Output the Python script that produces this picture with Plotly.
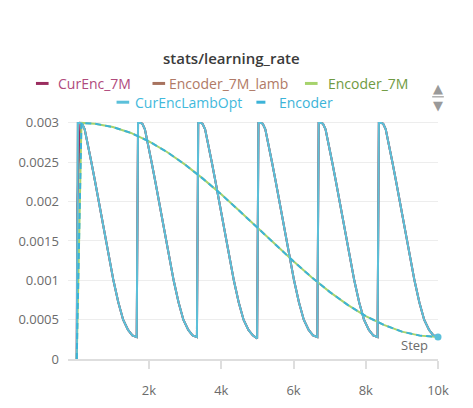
import plotly.graph_objects as go

# ---- data ----
cyc_steps = [0, 30, 100, 150, 220, 300, 405, 510, 611, 715, 818, 915, 1015, 1150, 1284, 1420, 1540, 1660,
             1697, 1767, 1817, 1887, 1967, 2072, 2177, 2278, 2382, 2485, 2582, 2682, 2817, 2951, 3087, 3207, 3327,
             3363, 3433, 3483, 3553, 3633, 3738, 3843, 3944, 4048, 4151, 4248, 4348, 4483, 4617, 4753, 4873, 4993,
             5030, 5100, 5150, 5220, 5300, 5405, 5510, 5611, 5715, 5818, 5915, 6015, 6150, 6284, 6420, 6540, 6660,
             6697, 6767, 6817, 6887, 6967, 7072, 7177, 7278, 7382, 7485, 7582, 7682, 7817, 7951, 8087, 8207, 8327,
             8363, 8433, 8483, 8553, 8633, 8738, 8843, 8944, 9048, 9151, 9248, 9348, 9483, 9617, 9753, 9873, 10000]
cyc_lr = [0.0, 0.003, 0.003, 0.00299, 0.00292, 0.00275, 0.0025, 0.00225, 0.002, 0.00175, 0.0015, 0.00125, 0.001, 0.00072, 0.0005, 0.00037, 0.0003, 0.00028,
          0.003, 0.003, 0.00299, 0.00292, 0.00275, 0.0025, 0.00225, 0.002, 0.00175, 0.0015, 0.00125, 0.001, 0.00072, 0.0005, 0.00037, 0.0003, 0.00028,
          0.003, 0.003, 0.00299, 0.00292, 0.00275, 0.0025, 0.00225, 0.002, 0.00175, 0.0015, 0.00125, 0.001, 0.00072, 0.0005, 0.00037, 0.0003, 0.00026,
          0.003, 0.003, 0.00299, 0.00292, 0.00275, 0.0025, 0.00225, 0.002, 0.00175, 0.0015, 0.00125, 0.001, 0.00072, 0.0005, 0.00037, 0.0003, 0.00028,
          0.003, 0.003, 0.00299, 0.00292, 0.00275, 0.0025, 0.00225, 0.002, 0.00175, 0.0015, 0.00125, 0.001, 0.00072, 0.0005, 0.00037, 0.0003, 0.00028,
          0.003, 0.003, 0.00299, 0.00292, 0.00275, 0.0025, 0.00225, 0.002, 0.00175, 0.0015, 0.00125, 0.001, 0.00072, 0.0005, 0.00037, 0.0003, 0.00029]

curenc_steps = [0, 12] + cyc_steps[2:]
curenc_lr = [0.0, 0.00195] + cyc_lr[2:]

cos_steps = [0, 130, 500, 1000, 1500, 2000, 2500, 3000, 3500, 4000, 4500, 5000,
             5500, 6000, 6500, 7000, 7500, 8000, 8500, 9000, 9500, 10000]
cos_lr = [0.0, 0.003, 0.00299, 0.002948, 0.002873, 0.002766, 0.002631, 0.00247, 0.002289, 0.002093,
          0.001883, 0.001668, 0.001452, 0.001241, 0.00104, 0.000853, 0.000688, 0.000546,
          0.000433, 0.000348, 0.000297, 0.00028]

series_names = ["CurEnc_7M", "Encoder_7M_lamb", "Encoder_7M", "CurEncLambOpt", "Encoder"]
line_colors = ["#9b2d5f", "#a8735f", "#a6d36c", "#5bc0da", "#3cb3d8"]
text_colors = ["#b04a7c", "#b07a66", "#6f9a42", "#42b9dc", "#3cb3d8"]

y_ticks = [0, 0.0005, 0.001, 0.0015, 0.002, 0.0025, 0.003]
y_labels = ["0", "0.0005", "0.001", "0.0015", "0.002", "0.0025", "0.003"]
x_ticks = [2000, 4000, 6000, 8000, 10000]
x_labels = ["2k", "4k", "6k", "8k", "10k"]

FONT = "Open Sans"

fig = go.Figure()
fig.add_trace(go.Scatter(x=curenc_steps, y=curenc_lr, mode="lines", name=series_names[0],
                         line=dict(color=line_colors[0], width=2)))
fig.add_trace(go.Scatter(x=cyc_steps, y=cyc_lr, mode="lines", name=series_names[1],
                         line=dict(color=line_colors[1], width=2)))
fig.add_trace(go.Scatter(x=cos_steps, y=cos_lr, mode="lines", name=series_names[2],
                         line=dict(color=line_colors[2], width=2)))
fig.add_trace(go.Scatter(x=cyc_steps, y=cyc_lr, mode="lines", name=series_names[3],
                         line=dict(color=line_colors[3], width=2)))
fig.add_trace(go.Scatter(x=cos_steps, y=cos_lr, mode="lines", name=series_names[4],
                         line=dict(color=line_colors[4], width=2, dash="6px,4px")))
fig.add_trace(go.Scatter(x=cos_steps[-1:], y=cos_lr[-1:], mode="markers", showlegend=False,
                         marker=dict(color=line_colors[3], size=7), cliponaxis=False, hoverinfo="skip"))

# page offset (body margin) and plot area in page pixels
OFF = 8
PL, PR, PT, PB = 68, 449, 119, 362
W, H = 458 - OFF, 408 - OFF
def px(x):
    return (x - PL) / (PR - PL)
def py(y):
    return (PB - y) / (PB - PT)

annotations = [
    dict(text="stats/learning_rate", x=px(236), y=py(57), xref="paper", yref="paper",
         xanchor="center", yanchor="middle", showarrow=False,
         font=dict(family=FONT, size=15, color="#3a3a3a", weight=600)),
    dict(text="Step", x=px(441), y=py(348), xref="paper", yref="paper",
         xanchor="right", yanchor="middle", showarrow=False,
         font=dict(family=FONT, size=13, color="#6b6b6b")),
]
shapes = []
legend_pos = [(35, 56, 83), (155, 170, 83), (312, 334, 83), (118, 135, 102), (262, 283, 102)]
for i, (sx, tx, ty) in enumerate(legend_pos):
    annotations.append(dict(text=series_names[i], x=px(tx), y=py(ty), xref="paper", yref="paper",
                            xanchor="left", yanchor="middle", showarrow=False,
                            font=dict(family=FONT, size=14, color=text_colors[i])))
    shapes.append(dict(type="line", xref="paper", yref="paper", x0=px(sx), x1=px(sx + 13),
                       y0=py(ty), y1=py(ty),
                       line=dict(color=line_colors[i], width=3, dash="dash" if i == 4 else "solid")))
# legend scroll arrows
annotations.append(dict(text="▲", x=px(449), y=py(88), xref="paper", yref="paper", showarrow=False,
                        xanchor="center", yanchor="middle",
                        font=dict(family="DejaVu Sans", size=13, color="#9a9a9a")))
annotations.append(dict(text="▼", x=px(449), y=py(105), xref="paper", yref="paper", showarrow=False,
                        xanchor="center", yanchor="middle",
                        font=dict(family="DejaVu Sans", size=13, color="#9a9a9a")))
shapes.append(dict(type="line", xref="paper", yref="paper", x0=px(443), x1=px(455),
                   y0=py(96.5), y1=py(96.5), line=dict(color="#b0b0b0", width=1.5)))

fig.update_layout(
    width=W, height=H,
    margin=dict(l=PL - OFF, r=W - (PR - OFF), t=PT - OFF, b=H - (PB - OFF)),
    paper_bgcolor="white", plot_bgcolor="white",
    showlegend=False,
    font=dict(family=FONT, size=13, color="#6b6b6b"),
    annotations=annotations, shapes=shapes,
    xaxis=dict(range=[-242, 10000], tickvals=x_ticks, ticktext=x_labels, showgrid=False,
               zeroline=False, showline=True, linecolor="#dedede", linewidth=2,
               ticks="outside", ticklen=8, tickcolor="#dedede", tickwidth=2,
               ticklabelstandoff=10, ticklabeloverflow="allow",
               tickfont=dict(family=FONT, size=13, color="#6b6b6b")),
    yaxis=dict(range=[0, 0.00305], tickvals=y_ticks, ticktext=y_labels, showgrid=True,
               gridcolor="#ededed", gridwidth=1, zeroline=False, showline=False,
               ticks="", ticklabelstandoff=8, tickfont=dict(family=FONT, size=13, color="#6b6b6b")),
)

fig.write_html("out.html")
